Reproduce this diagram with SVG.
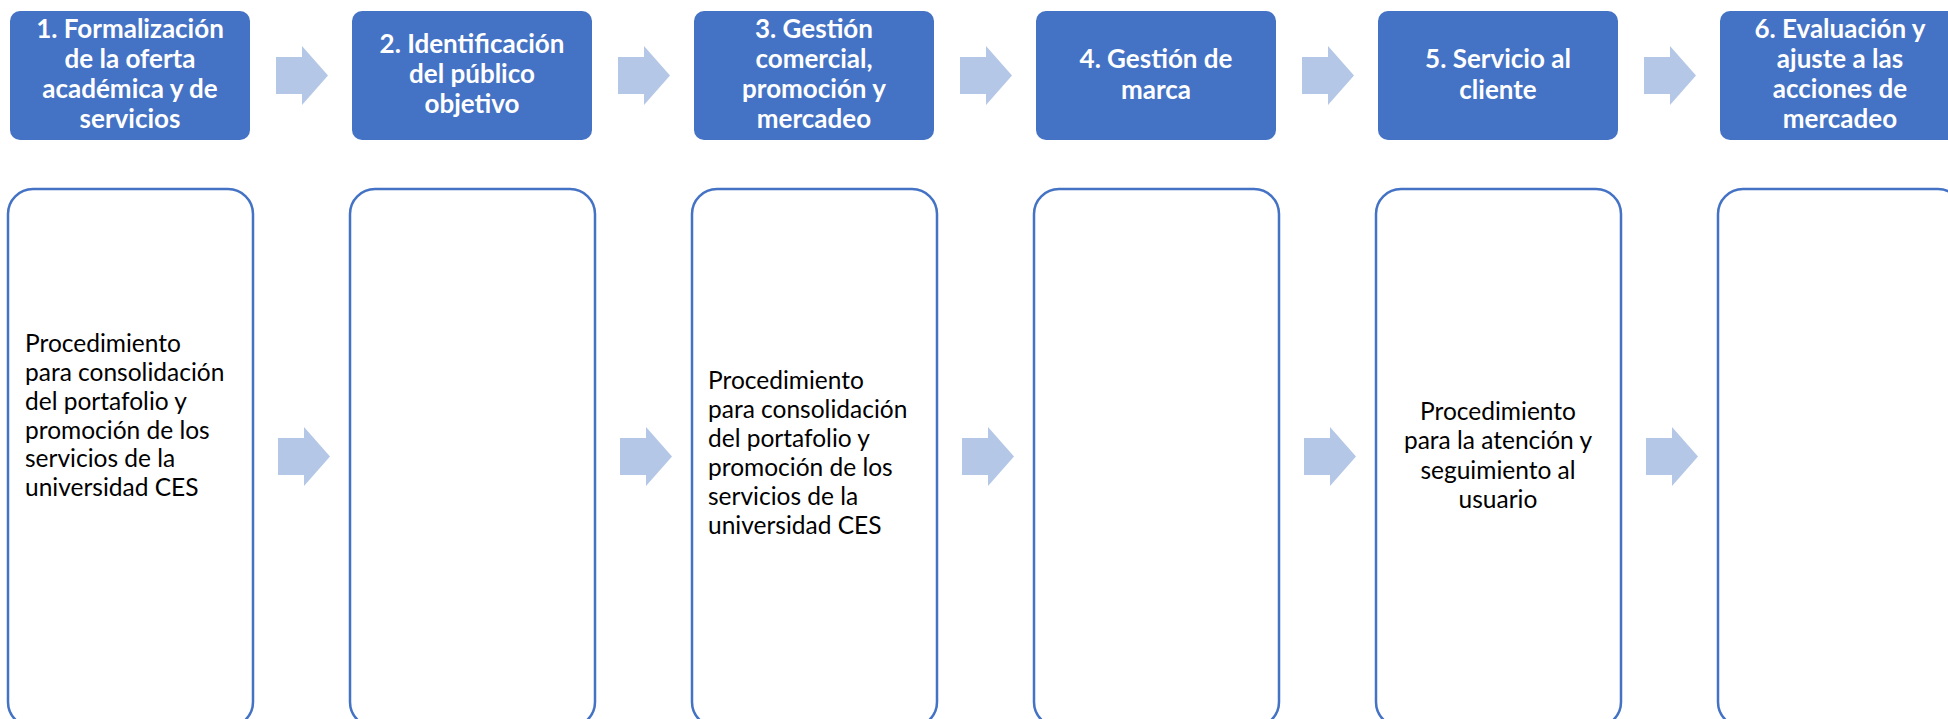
<svg xmlns="http://www.w3.org/2000/svg" width="1948" height="719" viewBox="0 0 1948 719">
<style>
.head{fill:#4472C4}
.ht{font-family:Lato,"Liberation Sans",sans-serif;font-weight:bold;font-size:26px;fill:#fff;text-anchor:middle}
.sub{fill:#fff;stroke:#4472C4;stroke-width:2.5}
.st{font-family:Lato,"Liberation Sans",sans-serif;font-size:24.5px;fill:#000}
.arr{fill:#B4C7E7}
</style>
<rect width="1948" height="719" fill="#fff"/>
<defs>
<polygon id="arrT" points="0,0 26,0 26,-11 52,18.5 26,48 26,37 0,37"/>
</defs>
<g id="connectors">
<use href="#arrT" class="arr" x="276" y="57"/>
<use href="#arrT" class="arr" x="618" y="57"/>
<use href="#arrT" class="arr" x="960" y="57"/>
<use href="#arrT" class="arr" x="1302" y="57"/>
<use href="#arrT" class="arr" x="1644" y="57"/>
<use href="#arrT" class="arr" x="278" y="438"/>
<use href="#arrT" class="arr" x="620" y="438"/>
<use href="#arrT" class="arr" x="962" y="438"/>
<use href="#arrT" class="arr" x="1304" y="438"/>
<use href="#arrT" class="arr" x="1646" y="438"/>
</g>
<g id="step1">
<rect class="head" x="10" y="11" width="240" height="129" rx="10"/>
<text class="ht" x="130" y="38">1. Formalización</text>
<text class="ht" x="130" y="68">de la oferta</text>
<text class="ht" x="130" y="98">académica y de</text>
<text class="ht" x="130" y="128">servicios</text>
</g>
<g id="step2">
<rect class="head" x="352" y="11" width="240" height="129" rx="10"/>
<text class="ht" x="472" y="53">2. Identificación</text>
<text class="ht" x="472" y="83">del público</text>
<text class="ht" x="472" y="113">objetivo</text>
</g>
<g id="step3">
<rect class="head" x="694" y="11" width="240" height="129" rx="10"/>
<text class="ht" x="814" y="38">3. Gestión</text>
<text class="ht" x="814" y="68">comercial,</text>
<text class="ht" x="814" y="98">promoción y</text>
<text class="ht" x="814" y="128">mercadeo</text>
</g>
<g id="step4">
<rect class="head" x="1036" y="11" width="240" height="129" rx="10"/>
<text class="ht" x="1156" y="68">4. Gestión de</text>
<text class="ht" x="1156" y="99">marca</text>
</g>
<g id="step5">
<rect class="head" x="1378" y="11" width="240" height="129" rx="10"/>
<text class="ht" x="1498" y="68">5. Servicio al</text>
<text class="ht" x="1498" y="99">cliente</text>
</g>
<g id="step6">
<rect class="head" x="1720" y="11" width="240" height="129" rx="10"/>
<text class="ht" x="1840" y="38">6. Evaluación y</text>
<text class="ht" x="1840" y="68">ajuste a las</text>
<text class="ht" x="1840" y="98">acciones de</text>
<text class="ht" x="1840" y="128">mercadeo</text>
</g>
<g id="detail1">
<rect class="sub" x="8" y="189" width="245" height="538" rx="25"/>
<text class="st" x="25" y="352">Procedimiento</text>
<text class="st" x="25" y="381">para consolidación</text>
<text class="st" x="25" y="410">del portafolio y</text>
<text class="st" x="25" y="439">promoción de los</text>
<text class="st" x="25" y="467">servicios de la</text>
<text class="st" x="25" y="496">universidad CES</text>
</g>
<g id="detail2">
<rect class="sub" x="350" y="189" width="245" height="538" rx="25"/>
</g>
<g id="detail3">
<rect class="sub" x="692" y="189" width="245" height="538" rx="25"/>
<text class="st" x="708" y="389">Procedimiento</text>
<text class="st" x="708" y="418">para consolidación</text>
<text class="st" x="708" y="447">del portafolio y</text>
<text class="st" x="708" y="476">promoción de los</text>
<text class="st" x="708" y="505">servicios de la</text>
<text class="st" x="708" y="534">universidad CES</text>
</g>
<g id="detail4">
<rect class="sub" x="1034" y="189" width="245" height="538" rx="25"/>
</g>
<g id="detail5">
<rect class="sub" x="1376" y="189" width="245" height="538" rx="25"/>
<text class="st" x="1498" y="420" text-anchor="middle">Procedimiento</text>
<text class="st" x="1498" y="449" text-anchor="middle">para la atención y</text>
<text class="st" x="1498" y="479" text-anchor="middle">seguimiento al</text>
<text class="st" x="1498" y="508" text-anchor="middle">usuario</text>
</g>
<g id="detail6">
<rect class="sub" x="1718" y="189" width="245" height="538" rx="25"/>
</g>
</svg>
